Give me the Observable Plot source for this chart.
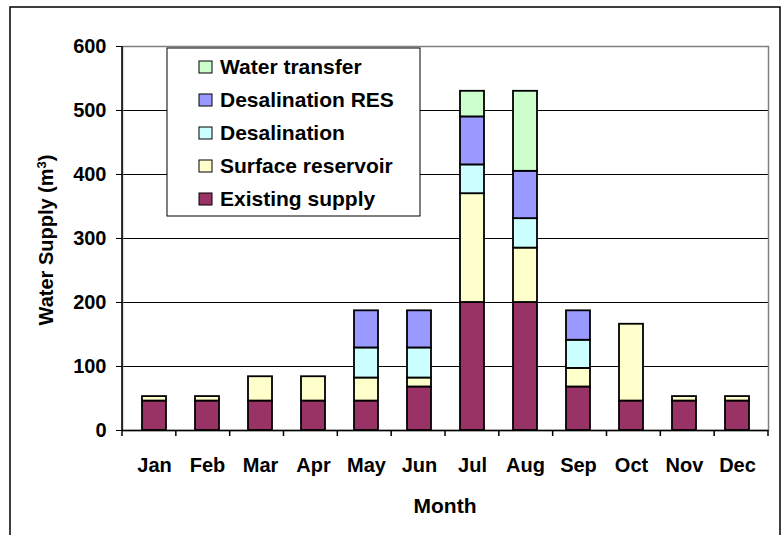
<!DOCTYPE html>
<html><head><meta charset="utf-8">
<script src="https://cdn.jsdelivr.net/npm/d3@7"></script>
<script src="https://cdn.jsdelivr.net/npm/@observablehq/plot@0.6"></script>
<style>body{margin:0;background:#fff} svg{display:block}</style>
</head><body><div id="chart"></div>
<script>
const months = ["Jan","Feb","Mar","Apr","May","Jun","Jul","Aug","Sep","Oct","Nov","Dec"];
const seriesNames = ["Existing supply","Surface reservoir","Desalination","Desalination RES","Water transfer"];
const seriesColors = ["#993366","#FFFFCC","#CCFFFF","#9999FF","#CCFFCC"];
const existingSupply   = [46,46,46,46,46,68,200,200,68,46,46,46];
const surfaceReservoir = [7,7,38,38,36,14,170,85,29,120,7,7];
const desalination     = [0,0,0,0,47,47,45,46,44,0,0,0];
const desalinationRES  = [0,0,0,0,58,58,75,74,46,0,0,0];
const waterTransfer    = [0,0,0,0,0,0,40,125,0,0,0,0];
const yTicks = [0,100,200,300,400,500,600];
const legendOrder = ["Water transfer","Desalination RES","Desalination","Surface reservoir","Existing supply"];

const seriesValues = [existingSupply, surfaceReservoir, desalination, desalinationRES, waterTransfer];
const data = [];
seriesNames.forEach((s, i) => months.forEach((m, j) => {
  if (seriesValues[i][j] > 0) data.push({month: m, series: s, value: seriesValues[i][j]});
}));

const font = "'Liberation Sans', Arial, sans-serif";
const W = 781, H = 535, mL = 122, mR = 13, mT = 46, mB = 105;

const chart = Plot.plot({
  width: W, height: H, marginLeft: mL, marginRight: mR, marginTop: mT, marginBottom: mB,
  style: {fontFamily: font, fontWeight: "bold", fontSize: "20px", color: "#000", background: "#fff"},
  x: {domain: months, paddingInner: 0.55, paddingOuter: 0.275, label: null},
  y: {domain: [0, 600], label: null},
  color: {domain: seriesNames, range: seriesColors},
  marks: [
    Plot.gridY(yTicks, {stroke: "#000", strokeOpacity: 1, strokeWidth: 1.2}),
    Plot.frame({stroke: "#808080", strokeWidth: 1.5}),
    Plot.barY(data, Plot.stackY({order: seriesNames}, {x: "month", y: "value", fill: "series", stroke: "#000", strokeWidth: 1.8})),
    Plot.ruleY([0], {stroke: "#000", strokeWidth: 1.5}),
    Plot.axisY(yTicks, {tickSize: 6, tickPadding: 10, label: null, fontSize: 20, fontWeight: "bold", stroke: "#000"}),
    Plot.axisX({tickSize: 0, tickPadding: 27, label: null, fontSize: 20, fontWeight: "bold"})
  ]
});

const svg = d3.select(chart);
const y = chart.scale("y");
// y-axis line
svg.append("line").attr("x1", mL).attr("x2", mL).attr("y1", y.apply(0)).attr("y2", y.apply(600))
  .attr("stroke", "#000").attr("stroke-width", 1.5);
// category separator ticks
for (let i = 0; i <= months.length; i++) {
  const xx = mL + i * (W - mL - mR) / months.length;
  svg.append("line").attr("x1", xx).attr("x2", xx).attr("y1", y.apply(0)).attr("y2", y.apply(0) + 6)
    .attr("stroke", "#000").attr("stroke-width", 1.5);
}
// outer border
svg.append("rect").attr("x", 10).attr("y", 7).attr("width", 770).attr("height", 540)
  .attr("fill", "none").attr("stroke", "#000").attr("stroke-width", 1.5);
// axis titles
svg.append("text").attr("x", (mL + W - mR) / 2).attr("y", 513).attr("text-anchor", "middle")
  .attr("font-family", font).attr("font-weight", "bold").attr("font-size", 21).attr("fill", "#000").text("Month");
const yl = svg.append("text").attr("transform", "translate(53,240) rotate(-90)").attr("text-anchor", "middle")
  .attr("font-family", font).attr("font-weight", "bold").attr("font-size", 20).attr("fill", "#000");
yl.append("tspan").text("Water Supply (m");
yl.append("tspan").attr("baseline-shift", "super").attr("font-size", 13).text("3");
yl.append("tspan").text(")");
// legend
const lg = svg.append("g").attr("text-anchor", "start");
lg.append("rect").attr("x", 167).attr("y", 48).attr("width", 253).attr("height", 168)
  .attr("fill", "#fff").attr("stroke", "#000").attr("stroke-width", 1);
legendOrder.forEach((name, i) => {
  const cy = 67 + i * 33;
  lg.append("rect").attr("x", 199).attr("y", cy - 6).attr("width", 13).attr("height", 12)
    .attr("fill", seriesColors[seriesNames.indexOf(name)]).attr("stroke", "#000").attr("stroke-width", 1);
  lg.append("text").attr("x", 220).attr("y", cy + 7).attr("text-anchor", "start").attr("font-family", font).attr("font-weight", "bold")
    .attr("font-size", 21).attr("fill", "#000").text(name);
});
document.getElementById("chart").appendChild(chart);
</script>
</body></html>
